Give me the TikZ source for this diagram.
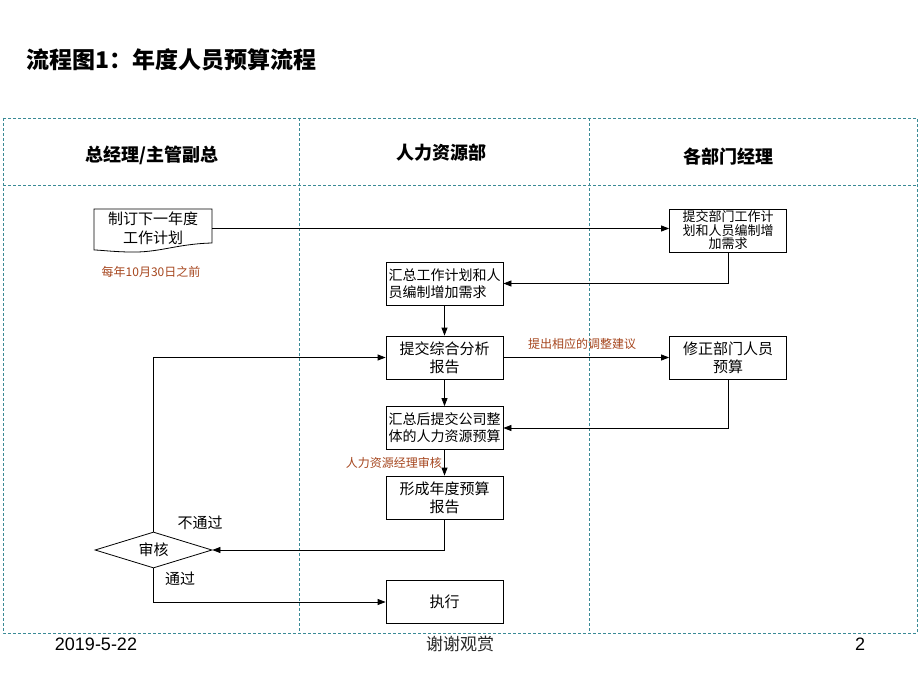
\documentclass[tikz,border=0pt]{standalone}
\usepackage{fontspec}
\setmainfont{Liberation Sans}
\newfontfamily\cjk{Noto Sans CJK SC}
\usetikzlibrary{arrows.meta,shapes.geometric}
\definecolor{lanecol}{RGB}{58,138,150}
\definecolor{notecol}{RGB}{166,70,30}
\begin{document}
\begin{tikzpicture}[x=1pt,y=-1pt,
 box/.style={draw, line width=0.8pt, minimum width=117pt, minimum height=43pt, inner sep=0pt, align=center, font=\cjk\fontsize{15}{18}\selectfont},
 conn/.style={line width=0.8pt, -{Triangle[length=8pt,width=6pt]}},
 note/.style={text=notecol, font=\cjk\fontsize{12}{14}\selectfont, inner sep=0pt},
 lbl/.style={font=\cjk\fontsize{15}{18}\selectfont, inner sep=0pt},
 hdr/.style={font=\cjk\bfseries\fontsize{18}{21}\selectfont, inner sep=0pt},
 lane/.style={draw=lanecol, dash pattern=on 3pt off 2pt, line width=0.7pt}]
\useasboundingbox (0,0) rectangle (920,690);
\fill[white] (0,0) rectangle (920,690);
% title
\node[anchor=west, inner sep=0pt, font=\cjk\bfseries\fontsize{23}{27}\selectfont] (title) at (26,60) {流程图1：年度人员预算流程};
% lanes
\draw[lane] (3,118) rectangle (917,633);
\draw[lane] (3,185) -- (917,185);
\draw[lane] (299,118) -- (299,633);
\draw[lane] (589,118) -- (589,633);
\node[hdr] (h1) at (152,155) {总经理/主管副总};
\node[hdr] (h2) at (441,153) {人力资源部};
\node[hdr] (h3) at (728,157) {各部门经理};
% document shape
\node[inner sep=0pt, minimum width=118pt, minimum height=41pt, align=center, font=\cjk\fontsize{15}{19}\selectfont] (plan) at (153,228.5) {制订下一年度\\工作计划};
\draw[line width=0.8pt] (94,209) -- (212,209) -- (212,243) .. controls (175,244) and (160,253) .. (128,252) .. controls (110,251.5) and (100,250) .. (94,250) -- cycle;
\node[note] (n1) at (151,272) {每年10月30日之前};
% boxes
\node[box, font=\cjk\fontsize{13}{13.5}\selectfont] (dept1) at (728,230.5) {提交部门工作计\\划和人员编制增\\加需求};
\node[box, align=left, font=\cjk\fontsize{14}{17}\selectfont] (hr1) at (444.5,283.5) {汇总工作计划和人\\员编制增加需求};
\node[box] (hr2) at (444.5,357.5) {提交综合分析\\报告};
\node[box] (dept2) at (728,357.5) {修正部门人员\\预算};
\node[box, font=\cjk\fontsize{14}{17}\selectfont] (hr3) at (444.5,428) {汇总后提交公司整\\体的人力资源预算};
\node[box] (hr4) at (444.5,497.5) {形成年度预算\\报告};
\node[box] (exec) at (444.5,602) {执行};
\node[draw, diamond, line width=0.8pt, minimum width=117pt, minimum height=36pt, aspect=3.2, inner sep=0pt, font=\cjk\fontsize{15}{18}\selectfont] (chk) at (153.5,550) {审核};
% connectors
\draw[conn] (plan.east) -- (plan.east -| dept1.west);
\draw[conn] (dept1.south) |- (hr1.east);
\draw[conn] (hr1.south) -- (hr2.north);
\draw[conn] (hr2.east) -- (dept2.west);
\node[note] (n2) at (582,344) {提出相应的调整建议};
\draw[conn] (dept2.south) |- (hr3.east);
\draw[conn] (hr2.south) -- (hr3.north);
\draw[conn] (hr3.south) -- (hr4.north);
\node[note, anchor=east] (n3) at (442,463) {人力资源经理审核};
\draw[conn] (hr4.south) |- (chk.east);
\draw[conn] (chk.north) |- (hr2.west);
\draw[conn] (chk.south) |- (exec.west);
\node[lbl] (l1) at (200,523) {不通过};
\node[lbl] (l2) at (180,579) {通过};
% footer
\node[inner sep=0pt, font=\fontsize{18}{20}\selectfont] (date) at (96,644) {2019-5-22};
\node[inner sep=0pt, font=\cjk\fontsize{17}{20}\selectfont, text=black!85] (thanks) at (460,644) {谢谢观赏};
\node[inner sep=0pt, font=\fontsize{18}{20}\selectfont] (page) at (860,644) {2};
\end{tikzpicture}
\end{document}
